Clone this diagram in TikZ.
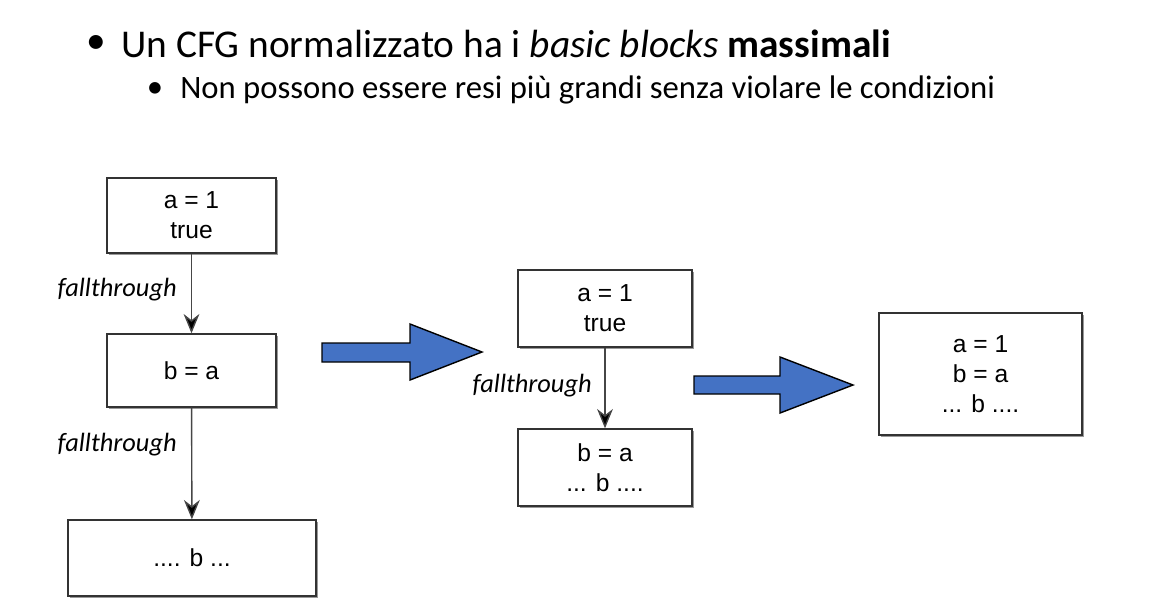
\documentclass[tikz,border=0pt]{standalone}
\usepackage{fontspec}
\setmainfont{Carlito}
\newfontfamily\arialfont{Liberation Sans}
\usetikzlibrary{arrows.meta,shadows}

\begin{document}
\begin{tikzpicture}[
    x=0.02cm, y=-0.02cm,
    >={Stealth[length=11pt, width=9pt, inset=3.5pt, fill=black]},
]

\definecolor{edgeCol}{RGB}{70, 70, 70}
\definecolor{bigArrowCol}{RGB}{68, 114, 196}

\tikzset{
    block_node/.style = {rectangle, draw=black!80, line width=0.8pt, fill=white,
                         align=center, font=\arialfont\fontsize{14}{17}\selectfont,
                         drop shadow={shadow xshift=1.1pt, shadow yshift=-1.1pt, opacity=1, fill=black!40}},
    flow_arrow/.style = {->, draw=edgeCol, line width=0.8pt},
    flow_label/.style = {font=\itshape\fontsize{15}{18}\selectfont, inner sep=0pt},
    big_arrow/.style = {draw=black, line width=0.8pt, fill=bigArrowCol, line join=miter}
}

\useasboundingbox (0,0) rectangle (1173,613);

% =========== TITLE ===========
\node[font=\fontsize{22.4}{26}\selectfont, inner sep=0pt] (bul1) at (96, 44) {\textbullet};
\node[anchor=west, inner sep=0pt, font=\fontsize{22.4}{26}\selectfont] (title) at (121, 44)
    {Un CFG normalizzato ha i \textit{basic blocks} \textbf{massimali}};
\node[font=\fontsize{18.6}{22}\selectfont, inner sep=0pt] (bul2) at (155, 90) {\textbullet};
\node[anchor=west, inner sep=0pt, font=\fontsize{18.6}{22}\selectfont] (subtitle) at (180, 90)
    {Non possono essere resi più grandi senza violare le condizioni};

% =========== ORIGINAL CFG ===========
\node[block_node, minimum width=3.38cm, minimum height=1.5cm] (a_one) at (191.5, 215.5) {a = 1\\true};
\node[block_node, minimum width=3.38cm, minimum height=1.46cm] (b_a) at (191.5, 370.5) {b = a};
\node[block_node, minimum width=4.96cm, minimum height=1.52cm] (b_use) at (192, 558) {.... b ...};

\draw[flow_arrow] (a_one) -- (b_a);
\draw[flow_arrow] (b_a) -- (b_use);

\node[flow_label, anchor=east] (ft_one) at (177, 290) {fallthrough};
\node[flow_label, anchor=east] (ft_two) at (177, 445) {fallthrough};

% =========== FIRST MERGE ===========
\draw[big_arrow] (322,343) -- (410,343) -- (410,324) -- (482,352) -- (410,380) -- (410,362) -- (322,362) -- cycle;

\node[block_node, minimum width=3.48cm, minimum height=1.54cm] (m_one) at (605, 308.5) {a = 1\\true};
\node[block_node, minimum width=3.48cm, minimum height=1.54cm] (m_two) at (605, 467.5) {b = a\\... b ....};

\draw[flow_arrow] (m_one) -- (m_two);
\node[flow_label, anchor=east] (ft_three) at (592, 386) {fallthrough};

% =========== MAXIMAL BLOCK ===========
\draw[big_arrow] (694,376) -- (780,376) -- (780,357) -- (853,385) -- (780,413) -- (780,394) -- (694,394) -- cycle;

\node[block_node, minimum width=4.06cm, minimum height=2.44cm] (max_block) at (980.5, 374) {a = 1\\b = a\\... b ....};

\end{tikzpicture}
\end{document}
